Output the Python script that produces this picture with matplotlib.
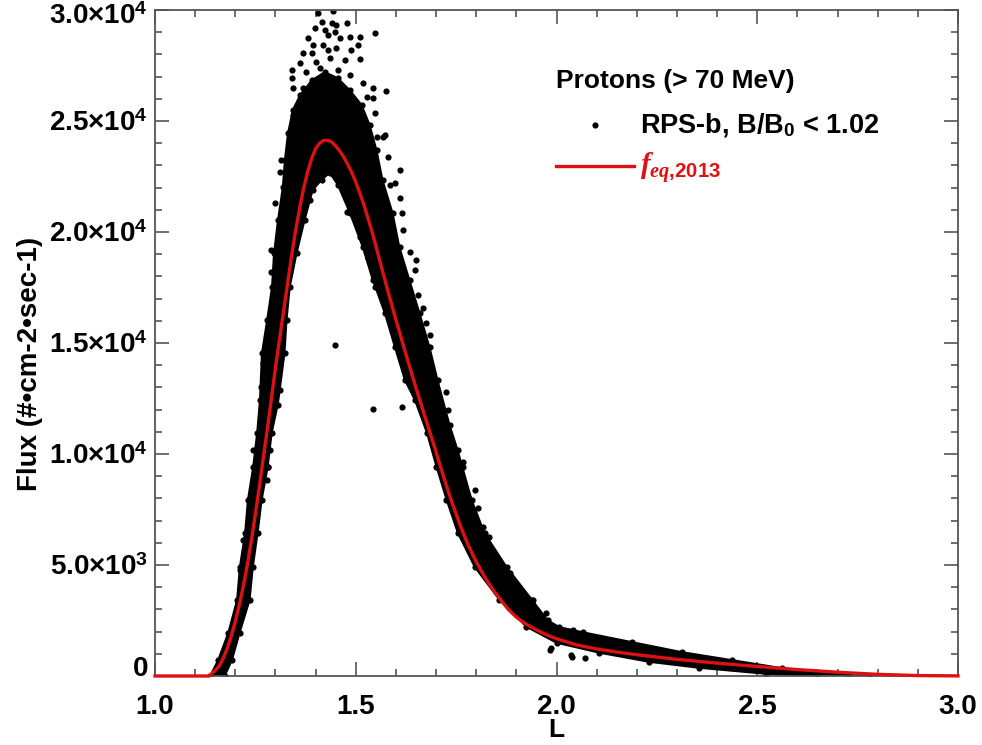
import matplotlib
matplotlib.use("Agg")
import matplotlib.pyplot as plt
import matplotlib.transforms as mtransforms

plt.rcParams['font.family'] = ['Liberation Sans', 'DejaVu Sans']
plt.rcParams['font.weight'] = 'bold'
plt.rcParams['mathtext.fontset'] = 'custom'
plt.rcParams['mathtext.rm'] = 'Liberation Sans:bold'
plt.rcParams['mathtext.bf'] = 'Liberation Sans:bold'
plt.rcParams['mathtext.it'] = 'Liberation Serif:italic:bold'

# fitted curve f_eq,2013
curve_L = [1.00, 1.10, 1.135, 1.15, 1.16, 1.17, 1.18, 1.19, 1.20, 1.21, 1.22, 1.23, 1.24,
           1.25, 1.26, 1.27, 1.28, 1.29, 1.30, 1.31, 1.32, 1.33, 1.34, 1.35, 1.36, 1.37,
           1.38, 1.39, 1.40, 1.41, 1.42, 1.43, 1.44, 1.45, 1.46, 1.47, 1.48, 1.49, 1.50,
           1.52, 1.54, 1.56, 1.58, 1.60, 1.62, 1.64, 1.66, 1.68, 1.70, 1.72, 1.74, 1.76,
           1.78, 1.80, 1.82, 1.84, 1.86, 1.88, 1.90, 1.925, 1.95, 1.975, 2.00, 2.05, 2.10,
           2.15, 2.20, 2.30, 2.40, 2.50, 2.60, 2.70, 2.80, 2.90, 3.00]
curve_F = [0, 0, 0, 250, 450, 800, 1250, 1800, 2450, 3200, 4050, 5000, 6100,
           7300, 8550, 9850, 11150, 12500, 13900, 15150, 16400, 17650, 18900, 20050, 21050, 21950,
           22700, 23300, 23750, 24000, 24120, 24130, 24050, 23880, 23650, 23380, 23050, 22680, 22260,
           21250, 20050, 18700, 17350, 16050, 14800, 13580, 12400, 11250, 10100, 8900, 7800, 6800,
           5900, 5150, 4500, 3930, 3450, 3000, 2650, 2330, 2080, 1860, 1680, 1400, 1220,
           1080, 960, 750, 580, 430, 290, 170, 75, 20, 5]

# outline of the dense RPS-b point cloud
cloud_L = [1.137, 1.157, 1.182, 1.204, 1.211, 1.224, 1.231, 1.244, 1.254, 1.261, 1.266, 1.279,
           1.291, 1.296, 1.306, 1.318, 1.323, 1.331, 1.343, 1.361, 1.391, 1.423, 1.455, 1.485,
           1.515, 1.535, 1.552, 1.567, 1.592, 1.609, 1.634, 1.659, 1.684, 1.704, 1.734, 1.754,
           1.766, 1.789, 1.821, 1.876, 1.940, 1.978, 2.007, 2.065, 2.189, 2.313, 2.438, 2.562,
           2.647, 2.729, 2.779,
           2.647, 2.522, 2.356, 2.231, 2.107, 2.000, 1.925, 1.858, 1.796, 1.754, 1.726, 1.701,
           1.677, 1.647, 1.622, 1.597, 1.572, 1.542, 1.517, 1.485, 1.455, 1.435, 1.415, 1.393,
           1.373, 1.353, 1.336, 1.328, 1.323, 1.311, 1.306, 1.291, 1.281, 1.266, 1.256, 1.244,
           1.236, 1.211, 1.192, 1.174]
cloud_F = [0, 720, 1940, 3420, 4910, 6440, 7930, 9410, 10950, 12430, 14550, 16040,
           17520, 19050, 20540, 22030, 23240, 24460, 25500, 26170, 26850, 27210, 26940, 26400,
           25720, 24820, 23690, 22340, 20860, 19320, 17840, 16350, 14820, 13330, 11310, 10180,
           9410, 7930, 6440, 4910, 3420, 2520, 2210, 1980, 1530, 1080, 720, 360,
           180, 45, 0,
           0, 90, 360, 630, 1040, 1490, 2210, 3420, 4910, 6440, 7930, 9410,
           10950, 12430, 13330, 14820, 16350, 17840, 19320, 20860, 22120, 22660, 22340, 21890,
           20540, 19050, 17520, 16040, 14550, 12880, 12210, 10950, 9410, 7930, 6440, 4910,
           3420, 1940, 720, 0]

# scattered points outside / along the edge of the dense cloud
dot_L = [1.406, 1.444, 1.415, 1.440, 1.452, 1.477, 1.398, 1.423, 1.431, 1.448, 1.381, 1.394,
         1.419, 1.460, 1.485, 1.510, 1.547, 1.369, 1.390, 1.431, 1.452, 1.489, 1.506, 1.361,
         1.402, 1.435, 1.473, 1.510, 1.340, 1.340, 1.377, 1.410, 1.456, 1.485, 1.518, 1.543,
         1.576, 1.344, 1.369, 1.527, 1.543, 1.547, 1.344, 1.572, 1.552,
         1.299, 1.311, 1.315, 1.290, 1.448, 1.543, 1.614, 1.485, 1.510, 1.531,
         1.614, 1.618, 1.634, 1.651, 1.647, 1.655, 1.667, 1.676, 1.684, 1.726, 1.730,
         1.585, 1.597, 1.609, 1.477, 1.531, 1.547, 1.609, 1.580, 1.568,
         1.767, 1.796, 1.804, 1.817, 1.833, 1.987, 2.037, 1.983, 2.039, 2.072,
         1.290, 1.274, 1.269, 1.265, 1.386, 1.369, 1.211, 1.220, 1.245, 1.286, 1.282, 1.278,
         1.232, 1.734, 1.779, 1.883, 1.941, 1.974, 2.041]
dot_F = [29850, 29950, 29470, 29400, 29320, 29430, 29180, 29100, 28870, 29020, 28730, 28420,
         28420, 28730, 28800, 28800, 28950, 28050, 28050, 28200, 28280, 28200, 28420, 27600,
         27670, 27820, 27750, 27780, 27300, 26920, 27220, 27370, 27300, 27070, 26700, 26470,
         26370, 26470, 26470, 26100, 26020, 25350, 25270, 24370, 24290,
         21290, 22720, 23240, 19190, 14900, 12010, 12130, 20990, 19790, 18890,
         20840, 20090, 19110, 18740, 18290, 17160, 16560, 15890, 15360, 12810, 11980,
         22120, 22190, 21520, 20910, 18810, 17540, 22790, 23390, 24290,
         9650, 8380, 7550, 6730, 6270, 1250, 950, 1170, 870, 800,
         18210, 14830, 14090, 13030, 21440, 20540, 4770, 6130, 10180, 10180, 9430, 8830,
         3420, 10780, 8080, 4630, 3420, 2820, 2070]

x_ticks = [1.0, 1.5, 2.0, 2.5, 3.0]
x_labels = ['1.0', '1.5', '2.0', '2.5', '3.0']
y_ticks = [0, 5000, 10000, 15000, 20000, 25000, 30000]
y_labels = ['0', '5.0×10$^{3}$', '1.0×10$^{4}$', '1.5×10$^{4}$', '2.0×10$^{4}$',
            '2.5×10$^{4}$', '3.0×10$^{4}$']

fig = plt.figure(figsize=(9.82, 7.45), dpi=100)
ax = fig.add_axes([155 / 982, 1 - 676 / 745, (958 - 155) / 982, (676 - 10) / 745])

ax.fill(cloud_L, cloud_F, color='black', lw=1.2, joinstyle='round', zorder=2)
ax.scatter(cloud_L, cloud_F, s=20, color='black', lw=0, zorder=2)
dots = ax.scatter(dot_L, dot_F, s=20, color='black', lw=0, zorder=2,
                  label='RPS-b, B/B$_{0}$ < 1.02')
line, = ax.plot(curve_L, curve_F, color='#dd1111', lw=2.4, zorder=3, clip_on=False,
                label=r'$\mathit{f_{eq{,}2013}}$')

ax.set_xlim(1.0, 3.0)
ax.set_ylim(0, 30000)
ax.set_xticks(x_ticks)
ax.set_xticklabels(x_labels)
ax.set_yticks(y_ticks)
ax.set_yticklabels(y_labels)
ax.set_xticks([1.0 + 0.1 * i for i in range(21)], minor=True)
ax.set_yticks([1000 * i for i in range(31)], minor=True)
ax.tick_params(which='both', direction='in', top=True, right=True, colors='#555555',
               labelcolor='black', labelsize=20, width=1.2)
ax.tick_params(which='major', length=10)
ax.tick_params(which='minor', length=5)
ax.tick_params(axis='x', pad=13)
ax.tick_params(axis='y', pad=5)
for s in ax.spines.values():
    s.set_color('#555555')
    s.set_linewidth(1.3)

# the "0" label sits a little above its tick, the top one a little below
yt = ax.yaxis.get_major_ticks()
yt[0].label1.set_transform(yt[0].label1.get_transform() +
                           mtransforms.ScaledTranslation(0, 7 / 72, fig.dpi_scale_trans))
yt[-1].label1.set_transform(yt[-1].label1.get_transform() +
                            mtransforms.ScaledTranslation(0, -3 / 72, fig.dpi_scale_trans))

ax.set_xlabel('L', fontsize=19, fontweight='bold')
ax.set_ylabel('Flux (#•cm-2•sec-1)', fontsize=20, fontweight='bold')
ax.xaxis.set_label_coords(0.5, -0.063)
ax.yaxis.set_label_coords(-0.140, 0.468)

leg = ax.legend(handles=[dots, line], loc='upper left', bbox_to_anchor=(0.499, 0.9115),
                borderaxespad=0, borderpad=0, frameon=False, fontsize=19.5,
                title='Protons (> 70 MeV)',
                title_fontproperties={'size': 19, 'weight': 'bold'},
                alignment='left', handlelength=2.9, handletextpad=0.2,
                labelspacing=0.45, scatterpoints=1)
leg._legend_box.sep = 13
leg.get_texts()[1].set_color('#dd1111')
leg.get_texts()[1].set_fontsize(21)

fig.savefig('out.png', dpi=100)
